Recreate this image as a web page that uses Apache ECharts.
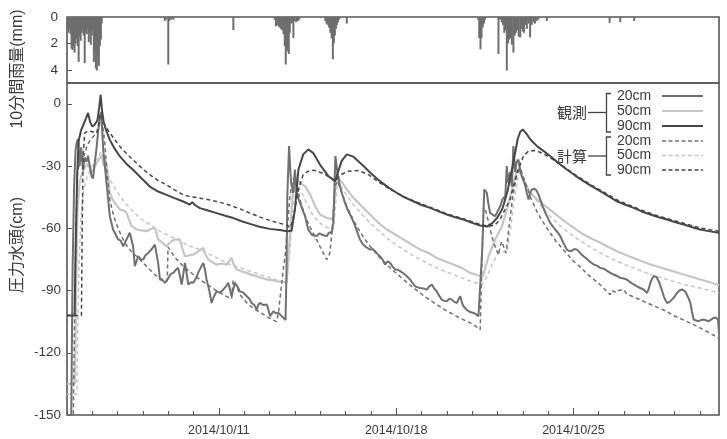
<!DOCTYPE html>
<html>
<head>
<meta charset="utf-8">
<script src="https://cdn.jsdelivr.net/npm/echarts@6/dist/echarts.min.js"></script>
<style>
  html, body { margin: 0; background: #fff; }
  #chart { width: 727px; height: 439px; }
</style>
</head>
<body>
<div id="chart"></div>
<script>
// x values are days since 2014/10/05 00:00
const dayTicks = [0,1,2,3,4,5,7,8,9,10,11,12,14,15,16,17,18,19,21,22,23,24,25]
const majorDays = [6, 13, 20]
const majorLabels = ["2014/10/11", "2014/10/18", "2014/10/25"]
const rainTicks = [0, 2, 4]
const headTicks = [-150, -120, -90, -60, -30, 0]

// 10-minute rainfall (mm)
const rain = [
  [0.02,1.0],[0.06,1.2],[0.1,0.9],[0.14,1.3],[0.18,2.4],[0.22,2.5],[0.26,2.2],[0.3,2.7],[0.34,2.0],
  [0.38,1.6],[0.42,2.2],[0.46,3.4],[0.5,1.5],[0.54,1.8],[0.58,1.2],[0.62,1.0],[0.66,1.4],[0.7,3.5],
  [0.74,1.2],[0.78,1.3],[0.82,0.9],[0.86,1.9],[0.9,1.2],[0.94,2.1],[0.98,1.4],[1.02,1.0],[1.06,3.4],
  [1.1,2.6],[1.14,3.9],[1.18,4.05],[1.22,3.0],[1.26,3.7],[1.3,2.2],[1.34,1.7],[1.37,0.5],
  [3.86,0.3],[3.92,0.2],[4.0,3.6],[4.04,0.3],[4.12,0.2],[4.2,0.2],[6.57,1.0],
  [8.2,0.2],[8.25,0.7],[8.3,0.6],[8.35,0.7],[8.4,0.8],[8.45,0.9],[8.5,1.0],[8.55,1.3],[8.6,2.2],
  [8.64,3.6],[8.68,2.4],[8.72,2.6],[8.76,2.8],[8.8,1.2],[8.85,0.5],[8.9,0.4],[8.94,1.6],[8.98,0.3],
  [9.05,0.4],[9.12,0.3],[9.17,0.2],
  [10.2,0.3],[10.25,0.5],[10.3,0.6],[10.35,0.8],[10.4,1.2],[10.45,1.6],[10.5,3.2],[10.54,2.0],
  [10.58,1.4],[10.62,0.9],[10.66,0.6],[10.7,0.4],[10.75,0.2],[11.05,0.5],
  [16.24,0.2],[16.28,1.6],[16.33,2.45],[16.37,1.6],[16.42,0.8],[16.47,0.5],[16.51,0.2],
  [17.04,2.8],[17.1,0.2],[17.17,0.4],[17.22,0.6],[17.27,1.2],[17.31,1.0],[17.37,4.05],[17.42,2.0],
  [17.47,1.7],[17.52,1.6],[17.57,2.1],[17.63,2.7],[17.68,1.4],[17.73,1.2],[17.78,1.0],[17.84,1.5],
  [17.9,1.55],[17.95,0.9],[18.0,1.1],[18.05,1.2],[18.1,0.6],[18.16,0.9],[18.22,0.5],[18.29,1.55],
  [18.35,0.6],[18.42,0.4],[18.48,0.5],[18.55,0.3],[18.62,0.2],[18.95,0.3],
  [21.43,0.45],[21.85,0.4],[22.4,0.3]
]

// pressure head (cm), observed
const obs20 = [
  [0,-150],[0.17,-150],[0.22,-80],[0.28,-40],[0.34,-22],[0.4,-18],[0.44,-17],[0.5,-30],[0.56,-21],
  [0.63,-32],[0.7,-26],[0.77,-28],[0.83,-25],[0.9,-30],[0.97,-35],[1.03,-36],[1.1,-28],[1.17,-21],
  [1.24,-12],[1.3,-6],[1.35,-4],[1.43,-22],[1.56,-38],[1.69,-54.2],[1.82,-60.6],[1.92,-63],
  [2.02,-65.4],[2.12,-66],[2.22,-68.7],[2.35,-65.4],[2.48,-62.2],[2.61,-68.7],[2.68,-78.3],
  [2.81,-73.5],[2.92,-75],[3.01,-75.1],[3.1,-73],[3.21,-71.9],[3.35,-70],[3.47,-67.9],[3.6,-76.7],
  [3.67,-84.7],[3.77,-85],[3.87,-86.3],[3.95,-85],[4.0,-84.7],[4.1,-82],[4.2,-81.5],[4.3,-80],
  [4.39,-79.1],[4.53,-87.1],[4.66,-76.7],[4.79,-87.1],[4.9,-86],[4.99,-86.3],[5.1,-84],[5.18,-81.5],
  [5.28,-79],[5.38,-76.7],[5.45,-80],[5.51,-84.7],[5.62,-90],[5.71,-96],[5.8,-93],[5.91,-90.4],
  [6.05,-91],[6.17,-89.6],[6.28,-88],[6.37,-86.3],[6.5,-92.8],[6.63,-86.3],[6.73,-88],[6.83,-90.4],
  [6.97,-91],[7.1,-92.8],[7.2,-94],[7.29,-96],[7.4,-97],[7.49,-99.2],[7.55,-97],[7.62,-96],
  [7.75,-97],[7.89,-96.8],[7.95,-99],[8.02,-102.4],[8.15,-100],[8.25,-101],[8.35,-100.8],[8.45,-102],
  [8.55,-103.2],[8.63,-104.2],[8.67,-80],[8.7,-45],[8.77,-20.4],[8.81,-30],[8.85,-38.1],[8.94,-43],
  [9.0,-31.7],[9.07,-43],[9.2,-47.8],[9.3,-51],[9.4,-54.2],[9.53,-60.6],[9.66,-63],[9.76,-63.5],
  [9.86,-63.8],[9.96,-62.5],[10.06,-63],[10.16,-63.5],[10.26,-63.8],[10.35,-62],[10.45,-62.2],
  [10.52,-57],[10.6,-25.2],[10.68,-33.3],[10.78,-39.7],[10.88,-44],[10.98,-47.8],[11.08,-51],
  [11.18,-53.4],[11.28,-56],[11.38,-59],[11.48,-62.5],[11.57,-65.4],[11.67,-67.5],[11.77,-68.7],
  [11.87,-69.5],[11.97,-70.3],[12.07,-70],[12.17,-71.1],[12.27,-72.5],[12.36,-73.5],[12.46,-75],
  [12.56,-77.5],[12.66,-76],[12.76,-76.7],[12.86,-78.5],[12.96,-79.9],[13.06,-80],[13.16,-80.7],
  [13.26,-81.5],[13.35,-82.3],[13.45,-83.5],[13.55,-84.7],[13.65,-86.5],[13.75,-88],[13.85,-88.5],
  [13.95,-88.8],[14.08,-89],[14.21,-89.6],[14.31,-88],[14.41,-87.1],[14.5,-89],[14.6,-90.4],
  [14.7,-92.5],[14.8,-94.4],[14.9,-95],[15.0,-95.2],[15.1,-94],[15.2,-94.4],[15.3,-95.5],[15.4,-96],
  [15.47,-94],[15.53,-92.8],[15.6,-96],[15.66,-97.6],[15.76,-99],[15.86,-100],[15.96,-100.5],
  [16.06,-100.8],[16.16,-101.5],[16.25,-102.4],[16.32,-103.2],[16.4,-70],[16.48,-41.3],[16.58,-42.9],
  [16.64,-48],[16.71,-52.6],[16.81,-53.5],[16.91,-54.2],[17.0,-52],[17.11,-49.4],[17.2,-46],
  [17.31,-44.5],[17.37,-30],[17.42,-38],[17.5,-33],[17.57,-40],[17.63,-20.4],[17.7,-33],[17.76,-28],
  [17.83,-26.9],[17.9,-32],[17.96,-35],[18.03,-37],[18.1,-39.7],[18.16,-43],[18.23,-46.1],[18.3,-43],
  [18.36,-41.3],[18.46,-41],[18.56,-42.1],[18.63,-44],[18.69,-46.1],[18.79,-49.5],[18.89,-52.6],
  [18.99,-55],[19.08,-57.4],[19.18,-59],[19.28,-60.6],[19.38,-62],[19.48,-63.8],[19.6,-67],
  [19.74,-70.3],[19.84,-71],[19.94,-70.8],[20.04,-70],[20.14,-70.3],[20.27,-72],[20.4,-73.5],
  [20.5,-74.5],[20.6,-75.5],[20.7,-76.5],[20.8,-77.5],[20.93,-78],[21.06,-79.1],[21.2,-79.5],
  [21.33,-80.5],[21.46,-81.5],[21.59,-82.3],[21.72,-83],[21.85,-83.9],[21.98,-84.2],[22.11,-84.7],
  [22.24,-86],[22.38,-87.1],[22.51,-88],[22.64,-88.8],[22.77,-89.5],[22.91,-91.2],[22.98,-89],
  [23.04,-86.3],[23.12,-84],[23.2,-83.1],[23.28,-83.5],[23.37,-85.5],[23.47,-89],[23.57,-92.8],
  [23.63,-94.5],[23.7,-96],[23.8,-95.5],[23.89,-94.4],[23.99,-93],[24.09,-91.2],[24.19,-90],
  [24.29,-89.5],[24.36,-89.6],[24.42,-90.5],[24.52,-93],[24.62,-96],[24.68,-100],[24.75,-104],
  [24.85,-104.5],[24.95,-104.8],[25.05,-104.2],[25.15,-104],[25.25,-104.5],[25.34,-104.8],
  [25.44,-104],[25.54,-103.2],[25.62,-103],[25.67,-102.4],[25.71,-104],[25.75,-110.5]
]

const obs50 = [
  [0,-135],[0.3,-135],[0.34,-110],[0.38,-75],[0.42,-50],[0.5,-38],[0.6,-33],[0.7,-31],[0.8,-29],
  [0.9,-31],[1.0,-33],[1.1,-30],[1.2,-28],[1.3,-26],[1.38,-25],[1.45,-30],[1.52,-27],[1.6,-33],
  [1.69,-42.9],[1.8,-46],[1.89,-47.8],[2.09,-51],[2.25,-51.5],[2.35,-52.6],[2.45,-56],[2.55,-59],
  [2.75,-60.6],[2.95,-61],[3.14,-61.4],[3.3,-60.5],[3.47,-59.8],[3.6,-65.4],[3.75,-66.8],[3.93,-68.7],
  [4.1,-66.5],[4.26,-65.4],[4.46,-65.4],[4.56,-70],[4.66,-73.5],[4.85,-73],[4.99,-72.7],[5.2,-71],
  [5.38,-69.5],[5.48,-73],[5.58,-75.1],[5.75,-76.5],[5.91,-77.5],[6.1,-77],[6.3,-77.5],[6.4,-76],
  [6.5,-74.3],[6.6,-78],[6.7,-79.9],[6.9,-80.8],[7.1,-81.5],[7.3,-82.5],[7.49,-83.1],[7.7,-84],
  [7.89,-84.7],[8.1,-85],[8.28,-85.5],[8.5,-85.8],[8.67,-86.3],[8.81,-62.2],[8.94,-38.1],[9.04,-35.7],
  [9.2,-38.1],[9.4,-39.7],[9.6,-43.7],[9.8,-49.4],[9.99,-53.4],[10.26,-55],[10.49,-55.8],[10.58,-45],
  [10.62,-36.5],[10.78,-36.5],[11.05,-41.3],[11.31,-45.3],[11.64,-49.4],[11.97,-53.4],[12.3,-57.4],
  [12.63,-60.6],[12.96,-63],[13.29,-65.4],[13.62,-67.9],[13.95,-70.3],[14.28,-71.9],[14.6,-74.3],
  [14.93,-75.9],[15.26,-77.5],[15.59,-79.1],[15.92,-81.5],[16.25,-82.8],[16.42,-83.4],[16.65,-73.5],
  [16.91,-65.4],[17.18,-59],[17.4,-50],[17.6,-40],[17.75,-33],[17.85,-30.9],[18.0,-36],[18.2,-41],
  [18.42,-44.5],[18.7,-47.5],[19.08,-51],[19.4,-54.3],[19.74,-57.4],[20.07,-60.3],[20.4,-63],
  [20.73,-65.1],[21.06,-67],[21.4,-69.2],[21.72,-71.1],[22.05,-72.8],[22.38,-74.3],[22.7,-75.9],
  [23.04,-77.5],[23.37,-78.7],[23.7,-79.9],[24.03,-81.1],[24.36,-82.3],[24.7,-83.5],[25.0,-84.7],
  [25.4,-86],[25.75,-87.5]
]

const obs90 = [
  [0,-102],[0.3,-102],[0.34,-70],[0.4,-35],[0.46,-18],[0.55,-13],[0.65,-10],[0.75,-7],[0.83,-4.4],
  [0.92,-9],[1.0,-11],[1.1,-10],[1.2,-8],[1.27,-2],[1.33,4.3],[1.38,-3],[1.45,-9],[1.55,-13],
  [1.69,-17.4],[1.85,-21],[2.09,-25.4],[2.35,-29],[2.61,-31.8],[2.95,-36],[3.27,-39.9],[3.6,-42.3],
  [3.93,-43.9],[4.25,-45.5],[4.59,-47.1],[4.85,-48.6],[4.95,-47.4],[5.05,-48.8],[5.25,-50.3],
  [5.6,-51.6],[5.91,-52.7],[6.25,-54],[6.57,-55.1],[6.9,-56.6],[7.23,-57.9],[7.6,-59.3],[8.0,-60.3],
  [8.4,-60.8],[8.7,-61.4],[8.87,-61.2],[9.0,-51],[9.14,-31.7],[9.33,-24.4],[9.53,-22],[9.73,-23.8],
  [9.99,-29.3],[10.32,-34.9],[10.59,-37.3],[10.7,-33],[10.85,-27.5],[11.05,-24.4],[11.31,-25.5],
  [11.71,-30],[12.0,-33.5],[12.36,-37.3],[12.7,-40.4],[13.02,-42.9],[13.35,-45.2],[13.68,-47],
  [14.0,-48.8],[14.34,-50.2],[14.7,-52],[15.0,-53.4],[15.33,-54.7],[15.66,-55.8],[16.0,-57.4],
  [16.32,-58.7],[16.58,-59.2],[16.8,-57.5],[17.0,-54.8],[17.2,-50.5],[17.4,-42],[17.6,-30],
  [17.8,-17],[17.9,-13.5],[18.0,-12.4],[18.15,-14.5],[18.3,-17.2],[18.56,-20.4],[18.8,-22.6],
  [19.08,-25.2],[19.4,-28.5],[19.74,-31.7],[20.07,-34.6],[20.4,-37.3],[20.73,-39.8],[21.06,-42.1],
  [21.4,-44.6],[21.72,-47],[22.05,-48.7],[22.38,-50.2],[22.7,-51.9],[23.04,-53.4],[23.37,-54.7],
  [23.7,-55.8],[24.03,-57.1],[24.36,-58.2],[24.7,-59.5],[25.0,-60.6],[25.4,-61.5],[25.75,-62.2]
]

// pressure head (cm), calculated
const calc20 = [
  [0,-150],[0.25,-150],[0.3,-100],[0.36,-55],[0.42,-33],[0.5,-28],[0.6,-27],[0.7,-24],[0.8,-20],
  [0.95,-17],[1.1,-15],[1.2,-14],[1.28,-10],[1.33,-8],[1.38,-9],[1.43,-12.4],[1.5,-20],[1.56,-30],
  [1.62,-38],[1.69,-46.1],[1.79,-51.5],[1.89,-55.8],[2.02,-60],[2.15,-63.8],[2.3,-67.3],[2.48,-70.3],
  [2.6,-72],[2.75,-73.5],[2.95,-76],[3.14,-78.3],[3.34,-80.8],[3.54,-83.1],[3.75,-84.5],[3.96,-85.5],
  [3.99,-69],[4.1,-71],[4.26,-74],[4.46,-76.7],[4.7,-79.5],[4.99,-82.3],[5.3,-85.2],[5.65,-88],
  [5.95,-90.5],[6.3,-92.8],[6.5,-94],[6.56,-85],[6.7,-88],[6.83,-92],[7.1,-96],[7.36,-98.6],
  [7.62,-100.5],[7.89,-102.6],[8.1,-104],[8.28,-105],[8.36,-100],[8.42,-93],[8.48,-86.5],[8.55,-79],
  [8.62,-73],[8.7,-60],[8.8,-45],[8.9,-37],[9.0,-35],[9.1,-40],[9.2,-46.3],[9.35,-52],[9.47,-56],
  [9.66,-61],[9.86,-65.6],[10.06,-70.5],[10.26,-75.1],[10.38,-72],[10.48,-60],[10.58,-40],
  [10.68,-37.3],[10.85,-43],[11.05,-49.4],[11.25,-54.5],[11.44,-59],[11.7,-64.2],[11.97,-68.7],
  [12.3,-73.5],[12.63,-77.5],[12.96,-81.2],[13.29,-84.7],[13.62,-88.1],[13.95,-91.2],[14.28,-94.2],
  [14.6,-96.8],[14.93,-99.3],[15.26,-101.6],[15.59,-103.7],[15.92,-105.6],[16.15,-107.3],
  [16.32,-108.9],[16.38,-80],[16.45,-50],[16.55,-52],[16.7,-60],[16.85,-67],[17.04,-72.8],[17.1,-69],
  [17.17,-66.4],[17.25,-69],[17.34,-71.9],[17.45,-60],[17.6,-45],[17.75,-35],[17.9,-31],[18.05,-36],
  [18.3,-45],[18.6,-53],[18.95,-60],[19.3,-66],[19.65,-71],[19.95,-75.2],[20.3,-79],[20.6,-82.6],
  [20.95,-86],[21.2,-89],[21.45,-92],[21.52,-90],[21.6,-90.5],[21.7,-91],[21.8,-90],[21.98,-89.5],
  [22.1,-91.5],[22.35,-93],[22.64,-94.5],[23.1,-97],[23.56,-99.4],[24.0,-102.3],[24.49,-105],
  [25.0,-108],[25.4,-110.6],[25.75,-113]
]

const calc50 = [
  [0,-140],[0.38,-140],[0.42,-115],[0.47,-80],[0.55,-55],[0.65,-42],[0.8,-35],[0.95,-31],[1.1,-28],
  [1.25,-25],[1.35,-23],[1.43,-26.9],[1.55,-31.5],[1.69,-36.5],[1.89,-40.8],[2.09,-44.5],[2.28,-47.5],
  [2.48,-50.2],[2.68,-52.8],[2.88,-55],[3.07,-56.7],[3.27,-58.2],[3.47,-59.9],[3.67,-61.4],
  [3.87,-62.7],[4.06,-63.8],[4.26,-65],[4.46,-66.2],[4.66,-67.5],[4.86,-68.7],[5.05,-69.5],
  [5.25,-70.3],[5.45,-71.5],[5.65,-72.7],[5.85,-73.9],[6.04,-75.1],[6.24,-76.3],[6.44,-77.5],
  [6.63,-78.3],[6.83,-79.1],[7.03,-79.9],[7.23,-80.7],[7.43,-81.5],[7.62,-82.3],[7.82,-83.1],
  [8.02,-83.9],[8.22,-84.7],[8.41,-85.5],[8.67,-86.3],[8.81,-70],[8.92,-50],[9.0,-38.1],[9.14,-40],
  [9.4,-46.1],[9.73,-54.2],[10.12,-59],[10.52,-60.6],[10.6,-50],[10.68,-37.3],[10.98,-42.9],
  [11.31,-48.6],[11.64,-53.3],[11.97,-57.4],[12.3,-61.2],[12.63,-64.6],[12.96,-67.6],[13.29,-70.3],
  [13.62,-72.8],[13.95,-75.1],[14.28,-77.2],[14.6,-79.1],[14.93,-80.8],[15.26,-82.3],[15.59,-83.9],
  [15.92,-85.5],[16.2,-86.5],[16.39,-87.1],[16.6,-83],[16.8,-77],[17.0,-72.5],[17.17,-71],
  [17.37,-71.9],[17.5,-62],[17.65,-47],[17.8,-36],[17.9,-32.5],[18.1,-38.5],[18.42,-44.5],
  [18.75,-49.8],[19.08,-54.2],[19.4,-58],[19.74,-61.4],[20.07,-64.4],[20.4,-67],[20.73,-69.6],
  [21.06,-71.9],[21.4,-74],[21.72,-75.9],[22.05,-77.6],[22.38,-79.1],[22.7,-80.7],[23.04,-82.3],
  [23.37,-83.5],[23.7,-84.7],[24.03,-85.9],[24.36,-87.1],[24.7,-88],[25.0,-88.8],[25.4,-90],
  [25.75,-91.2]
]

const calc90 = [
  [0,-102],[0.57,-102],[0.6,-60],[0.64,-25],[0.7,-14],[0.85,-13],[1.0,-13.5],[1.17,-14.1],[1.25,-10],
  [1.32,-5],[1.38,-6],[1.5,-10.5],[1.69,-14.1],[1.9,-17.5],[2.09,-20.6],[2.35,-24],[2.61,-27],
  [2.95,-31],[3.27,-34.2],[3.6,-37],[3.93,-39.1],[4.25,-41.5],[4.59,-43.9],[4.9,-44.8],[5.25,-45.5],
  [5.6,-46.3],[5.91,-47.1],[6.25,-48.2],[6.57,-49.5],[6.9,-51],[7.23,-52.7],[7.6,-54.5],[8.0,-56.2],
  [8.4,-57.6],[8.68,-58.4],[8.81,-59.8],[8.9,-57],[9.0,-51],[9.14,-41.3],[9.33,-34.1],[9.53,-32.5],
  [9.73,-32],[10.12,-33.6],[10.4,-35.5],[10.59,-37.3],[10.72,-35.5],[10.85,-34],[11.11,-32.5],
  [11.51,-32.2],[11.9,-34.1],[12.36,-38.1],[12.7,-40.8],[13.02,-42.9],[13.35,-45],[13.68,-46.8],
  [14.0,-48.3],[14.34,-49.9],[14.7,-51.5],[15.0,-53.1],[15.33,-54.3],[15.66,-55.5],[16.0,-56.8],
  [16.32,-58.2],[16.65,-59],[16.9,-58.5],[17.1,-55.8],[17.3,-51],[17.5,-46.1],[17.77,-33.3],
  [18.03,-25.2],[18.23,-22.8],[18.4,-22.5],[18.56,-22.8],[18.8,-24],[19.08,-25.9],[19.4,-28.6],
  [19.74,-31.4],[20.07,-34.2],[20.4,-36.8],[20.73,-39.3],[21.06,-41.6],[21.4,-44],[21.72,-46.3],
  [22.05,-48.1],[22.38,-49.7],[22.7,-51.3],[23.04,-52.8],[23.37,-54.1],[23.7,-55.3],[24.03,-56.5],
  [24.36,-57.6],[24.7,-58.8],[25.0,-59.8],[25.4,-60.7],[25.75,-61.4]
]

const FONT = "'Liberation Sans', Arial, 'Noto Sans CJK JP', sans-serif"
const FRAME = "#555"
const TEXT = "#3a3a3a"
const C20 = "#707070", C50 = "#c6c6c6", C90 = "#474747"
const XMAX = 25.75

const headLine = (name, data, color, width, dashed) => ({
  name, type: "line", xAxisIndex: 1, yAxisIndex: 1, data,
  symbol: "none", showSymbol: false, silent: true,
  lineStyle: { color, width, type: dashed ? [4, 3] : "solid" },
})

// legend drawn by hand: bracket groups 観測 / 計算
const legendRows = [
  { label: "20cm", color: C20, dashed: false },
  { label: "50cm", color: C50, dashed: false },
  { label: "90cm", color: C90, dashed: false },
  { label: "20cm", color: C20, dashed: true },
  { label: "50cm", color: C50, dashed: true },
  { label: "90cm", color: C90, dashed: true },
]
const rowY = [96, 111, 126, 141, 155.5, 170]
const legendGraphics = []
legendRows.forEach((r, i) => {
  legendGraphics.push({
    type: "text", x: 617, y: rowY[i],
    style: { text: r.label, fill: TEXT, font: "14px " + FONT, textAlign: "left", verticalAlign: "middle", textVerticalAlign: "middle" },
  })
  legendGraphics.push({
    type: "line", shape: { x1: 662, y1: rowY[i], x2: 703, y2: rowY[i] },
    style: { stroke: r.color, lineWidth: r.dashed ? 1.5 : 2, lineDash: r.dashed ? [4, 2.5] : null },
  })
})
;[["観測", 112.5, 93.5, 132], ["計算", 156, 137, 175]].forEach(([t, cy, top, bot]) => {
  legendGraphics.push({
    type: "text", x: 572, y: cy,
    style: { text: t, fill: TEXT, font: "15px 'Noto Sans CJK JP', sans-serif", textAlign: "center", verticalAlign: "middle", textVerticalAlign: "middle" },
  })
  legendGraphics.push({ type: "line", shape: { x1: 588, y1: cy, x2: 606.5, y2: cy }, style: { stroke: "#444", lineWidth: 1.3 } })
  legendGraphics.push({
    type: "polyline", shape: { points: [[611, top], [606.5, top], [606.5, bot], [611, bot]] },
    style: { stroke: "#444", lineWidth: 1.3, fill: null },
  })
})

const chart = echarts.init(document.getElementById("chart"))

chart.setOption({
  animation: false,
  backgroundColor: "#fff",
  textStyle: { fontFamily: FONT },
  grid: [
    { left: 67, right: 8, top: 17, height: 66, show: true, borderColor: FRAME, borderWidth: 1.6, outerBoundsMode: "none" },
    { left: 67, right: 8, top: 83, bottom: 24, show: true, borderColor: FRAME, borderWidth: 1.6, outerBoundsMode: "none" },
  ],
  xAxis: [
    {
      gridIndex: 0, type: "value", min: 0, max: XMAX,
      axisLine: { show: false, onZero: false }, axisTick: { show: false },
      axisLabel: { show: false }, splitLine: { show: false },
    },
    {
      gridIndex: 1, type: "value", min: 0, max: XMAX, position: "bottom",
      axisLine: { show: false, onZero: false },
      axisTick: { inside: true, length: 4, customValues: dayTicks, lineStyle: { color: FRAME, width: 1 } },
      axisLabel: { show: false }, splitLine: { show: false },
    },
    {
      gridIndex: 1, type: "value", min: 0, max: XMAX, position: "bottom",
      axisLine: { show: false, onZero: false },
      axisTick: { inside: true, length: 7, customValues: majorDays, lineStyle: { color: FRAME, width: 1 } },
      axisLabel: {
        customValues: majorDays, margin: 9, color: TEXT, fontSize: 12.5,
        formatter: v => majorLabels[majorDays.indexOf(Math.round(v))],
      },
      splitLine: { show: false },
    },
  ],
  yAxis: [
    {
      gridIndex: 0, type: "value", inverse: true, min: 0, max: 5,
      axisLine: { show: false, onZero: false },
      axisTick: { inside: true, length: 5, customValues: rainTicks, lineStyle: { color: FRAME } },
      axisLabel: { customValues: rainTicks, margin: 9, color: TEXT, fontSize: 13.5 },
      splitLine: { show: false },
    },
    {
      gridIndex: 1, type: "value", min: -150, max: 10,
      axisLine: { show: false, onZero: false },
      axisTick: { inside: true, length: 5, customValues: headTicks, lineStyle: { color: FRAME } },
      axisLabel: { customValues: headTicks, margin: 6, color: TEXT, fontSize: 13.5 },
      splitLine: { show: false },
    },
  ],
  graphic: [
    {
      type: "text", x: 18, y: 69, rotation: Math.PI / 2,
      style: { text: "10分間雨量(mm)", fill: TEXT, font: "16px " + FONT, textAlign: "center", verticalAlign: "middle", textVerticalAlign: "middle" },
    },
    {
      type: "text", x: 18, y: 245, rotation: Math.PI / 2,
      style: { text: "圧力水頭(cm)", fill: TEXT, font: "16px " + FONT, textAlign: "center", verticalAlign: "middle", textVerticalAlign: "middle" },
    },
    ...legendGraphics,
  ],
  series: [
    {
      name: "rain", type: "bar", xAxisIndex: 0, yAxisIndex: 0, data: rain,
      barWidth: 2, itemStyle: { color: "#6e6e6e" }, silent: true,
    },
    headLine("計算 50cm", calc50, C50, 1.5, true),
    headLine("観測 50cm", obs50, C50, 2.2, false),
    headLine("計算 20cm", calc20, C20, 1.5, true),
    headLine("観測 20cm", obs20, C20, 2, false),
    headLine("計算 90cm", calc90, C90, 1.5, true),
    headLine("観測 90cm", obs90, C90, 2, false),
  ],
})
</script>
</body>
</html>
